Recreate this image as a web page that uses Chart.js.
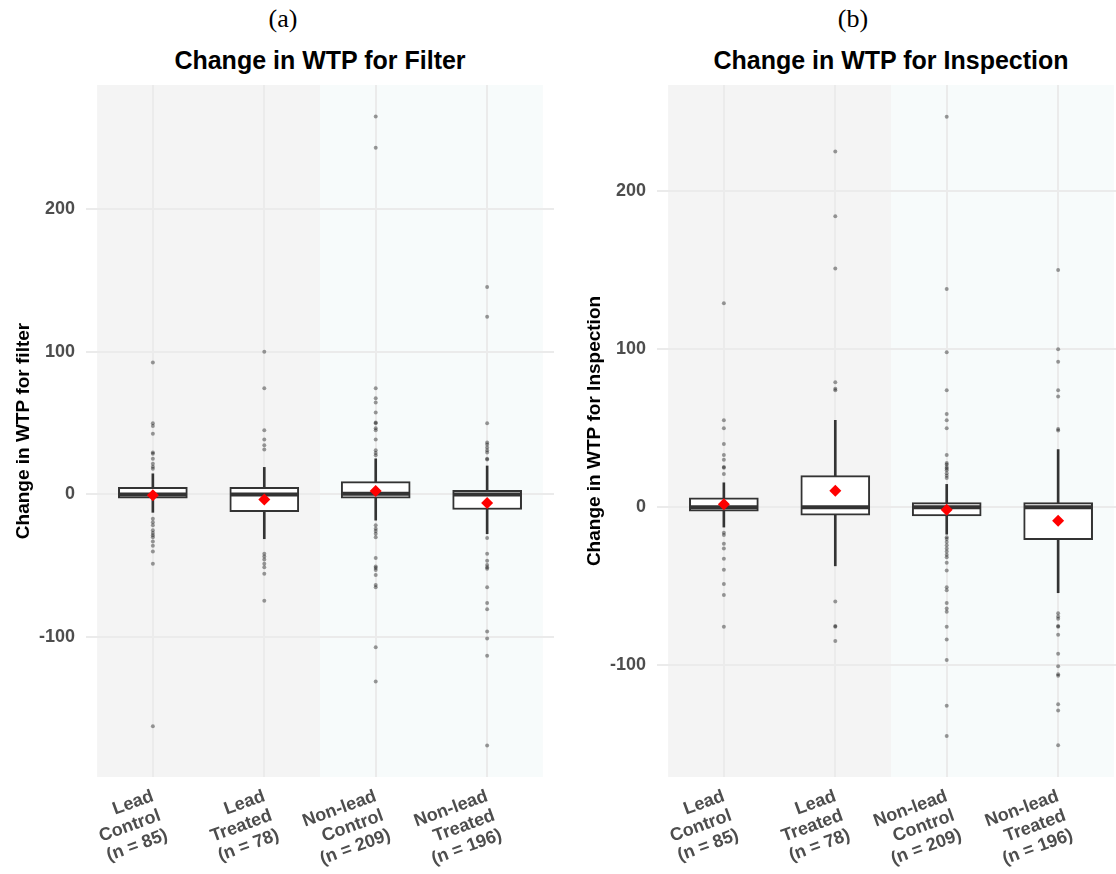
<!DOCTYPE html>
<html>
<head>
<meta charset="utf-8">
<script src="https://cdn.jsdelivr.net/npm/chart.js@4.4.0/dist/chart.umd.min.js"></script>
<style>
  html, body { margin: 0; padding: 0; background: #fff; overflow: hidden; }
  body { width: 1116px; height: 874px; position: relative; }
  .panel { position: absolute; top: 0; height: 874px; }
  .tag { position: absolute; top: 6px; font: 26px/26px 'Liberation Serif', serif; color: #000; transform: translateX(-50%); white-space: nowrap; }
  .title { position: absolute; top: 48px; font: bold 25px/25px 'Liberation Sans', Arial, sans-serif; color: #000; transform: translateX(-50%); white-space: nowrap; }
</style>
</head>
<body>
<div class="tag" style="left:283px">(a)</div>
<div class="title" style="left:320px">Change in WTP for Filter</div>
<div class="tag" style="left:853px">(b)</div>
<div class="title" style="left:891px">Change in WTP for Inspection</div>
<div class="panel" style="left:0;width:560px"><canvas id="filterChart"></canvas></div>
<div class="panel" style="left:571px;width:554px"><canvas id="inspectionChart"></canvas></div>

<script>
// groups along the x axis
const groupLabels = [
  ['Lead', 'Control', '(n = 85)'],
  ['Lead', 'Treated', '(n = 78)'],
  ['Non-lead', 'Control', '(n = 209)'],
  ['Non-lead', 'Treated', '(n = 196)']
];
const groupPositions = [1, 2, 3, 4];

// (a) filter
const filterLow    = [-12.5, -31, -18, -27.5];
const filterQ1     = [-2.5, -12, -2.5, -10.5];
const filterMedian = [0, 0, 0.5, 0];
const filterQ3     = [5, 5, 9, 3];
const filterHigh   = [14.5, 19, 25, 20];
const filterMean   = [-0.5, -3.5, 2.5, -6];
const filterOutliers = [
  [92.5, 50, 48, 42.5, 29.5, 28.5, 25, 21.5, 19.5, 18, -17, -19.5, -21.5, -25, -27, -28.5, -30, -33, -36, -40, -48.5, -162.5],
  [100, 74.5, 45, 38.5, 34.5, 31.5, -41.5, -43.5, -45.5, -48.5, -51, -55.5, -74.5],
  [265, 243, 74.5, 67.5, 64.5, 57.5, 50.5, 50, 46.5, 45, 38.5, 31, 29, 27.5, -21.5, -24, -25.5, -27.5, -30, -44.5, -50.5, -51.5, -53, -56.5, -63.5, -65, -107, -131],
  [145.5, 124.5, 50, 36.5, 35, 33, 31, 29.5, 25, 24.5, -30.5, -41.5, -46.5, -49.5, -51, -52, -65, -76, -80.5, -96, -101, -113, -176]
];

// (b) inspection
const inspLow    = [-12.5, -37, -17, -54];
const inspQ1     = [-2.5, -5, -5.5, -20.5];
const inspMedian = [0, 0, 0, 0];
const inspQ3     = [6, 20, 3, 3];
const inspHigh   = [15.5, 55, 14.5, 36.5];
const inspMean   = [2, 10.5, -1.5, -8.5];
const inspOutliers = [
  [129, 55, 50, 40, 33, 30, 25.5, 25, 21, -16, -17.5, -23, -26, -32.5, -39.5, -48.5, -55.5, -75.5],
  [225, 184, 151, 79, 75, 74, -59.5, -75, -75.5, -84.5],
  [247, 138, 98, 74, 59, 55, 50, 33, 28, 27, 25.5, 24.5, 23.5, 21.5, 20, 18.5, -19, -20, -22, -24, -26, -28, -30, -31.5, -35, -40, -50.5, -52.5, -60.5, -64, -66, -75.5, -83.5, -96.5, -125.5, -144.5],
  [150, 100, 92, 74, 70, 49.5, 48.5, -67, -69, -70.5, -75, -75.5, -80.5, -92.5, -100.5, -105.5, -106.5, -124.5, -128.5, -150.5]
];

const sans = "'Liberation Sans', Arial, sans-serif";
const tickGrey = '#4d4d4d';
const gridGrey = '#ebebeb';
const boxLine = '#333333';

// background bands behind the lead / non-lead groups
const shadePlugin = {
  id: 'shade',
  beforeDraw(chart, args, opts) {
    const { ctx, chartArea, scales: { x } } = chart;
    ctx.save();
    opts.bands.forEach(b => {
      const x0 = x.getPixelForValue(b.from);
      const x1 = x.getPixelForValue(b.to);
      ctx.fillStyle = b.color;
      ctx.fillRect(x0, chartArea.top, x1 - x0, chartArea.bottom - chartArea.top);
    });
    ctx.restore();
  }
};

const makeBoxChart = (canvasId, s) => {
  const whiskers = groupPositions.map((x, i) => ({ x, y: [s.low[i], s.high[i]] }));
  const boxes = groupPositions.map((x, i) => ({ x, y: [s.q1[i], s.q3[i]] }));
  const medians = groupPositions.map((x, i) => ({ x, y: s.median[i] }));
  const means = groupPositions.map((x, i) => ({ x, y: s.mean[i] }));
  const outliers = [];
  s.outliers.forEach((vals, i) => vals.forEach(v => outliers.push({ x: groupPositions[i], y: v })));

  return new Chart(document.getElementById(canvasId), {
    type: 'bar',
    data: {
      datasets: [
        { type: 'bar', data: whiskers, backgroundColor: boxLine, barThickness: 2, grouped: false, order: 4 },
        { type: 'bar', data: boxes, backgroundColor: '#ffffff', borderColor: boxLine, borderWidth: 2,
          borderSkipped: false, barThickness: 69, grouped: false, order: 3 },
        { type: 'scatter', data: medians, pointStyle: 'line', pointRadius: 34, borderColor: boxLine,
          pointBorderColor: boxLine, pointBorderWidth: 4, borderWidth: 4, order: 2 },
        { type: 'scatter', data: outliers, pointRadius: 2, backgroundColor: 'rgba(0,0,0,0.38)',
          pointBackgroundColor: 'rgba(0,0,0,0.38)', pointBorderWidth: 0, borderWidth: 0, order: 1 },
        { type: 'scatter', data: means, pointStyle: 'rectRot', pointRadius: 6, backgroundColor: '#ff0000',
          pointBackgroundColor: '#ff0000', pointBorderWidth: 0, borderWidth: 0, order: 0 }
      ]
    },
    options: {
      responsive: true,
      maintainAspectRatio: false,
      animation: false,
      layout: { autoPadding: false, padding: { top: 85, right: s.padRight, left: 0, bottom: 0 } },
      plugins: {
        legend: { display: false },
        tooltip: { enabled: false },
        shade: { bands: [{ from: 0.5, to: 2.5, color: '#f4f4f4' }, { from: 2.5, to: 4.5, color: '#f7fbfb' }] }
      },
      scales: {
        x: {
          type: 'linear', min: 0.4, max: 4.6, offset: false,
          afterBuildTicks: sc => { sc.ticks = groupPositions.map(v => ({ value: v })); },
          afterFit: sc => { sc.height = 97; sc.paddingLeft = 0; sc.paddingRight = 0; },
          ticks: {
            autoSkip: false, minRotation: 20, maxRotation: 20, padding: 9, color: tickGrey,
            font: { family: sans, size: 18, weight: 'bold', lineHeight: 1.15 },
            callback: v => groupLabels[v - 1]
          },
          grid: { color: gridGrey, lineWidth: 2, drawTicks: false, offset: false },
          border: { display: false }
        },
        y: {
          min: s.min, max: s.max,
          afterBuildTicks: sc => { sc.ticks = sc.ticks.filter(t => t.value % 100 === 0); },
          afterFit: sc => { sc.width = 86; sc.paddingTop = 0; sc.paddingBottom = 0; },
          ticks: { stepSize: 100, padding: 11, color: tickGrey, font: { family: sans, size: 18, weight: 'bold' } },
          grid: { color: gridGrey, lineWidth: 2, drawTicks: false },
          border: { display: false },
          title: { display: true, text: s.yTitle, color: '#000', padding: { top: 12, bottom: 0 },
                   font: { family: sans, size: 19, weight: 'bold' } }
        }
      }
    },
    plugins: [shadePlugin]
  });
};

makeBoxChart('filterChart', {
  low: filterLow, q1: filterQ1, median: filterMedian, q3: filterQ3, high: filterHigh,
  mean: filterMean, outliers: filterOutliers, min: -198, max: 287, padRight: 6,
  yTitle: 'Change in WTP for filter'
});

makeBoxChart('inspectionChart', {
  low: inspLow, q1: inspQ1, median: inspMedian, q3: inspQ3, high: inspHigh,
  mean: inspMean, outliers: inspOutliers, min: -170.5, max: 267, padRight: 0,
  yTitle: 'Change in WTP for Inspection'
});
</script>
</body>
</html>
